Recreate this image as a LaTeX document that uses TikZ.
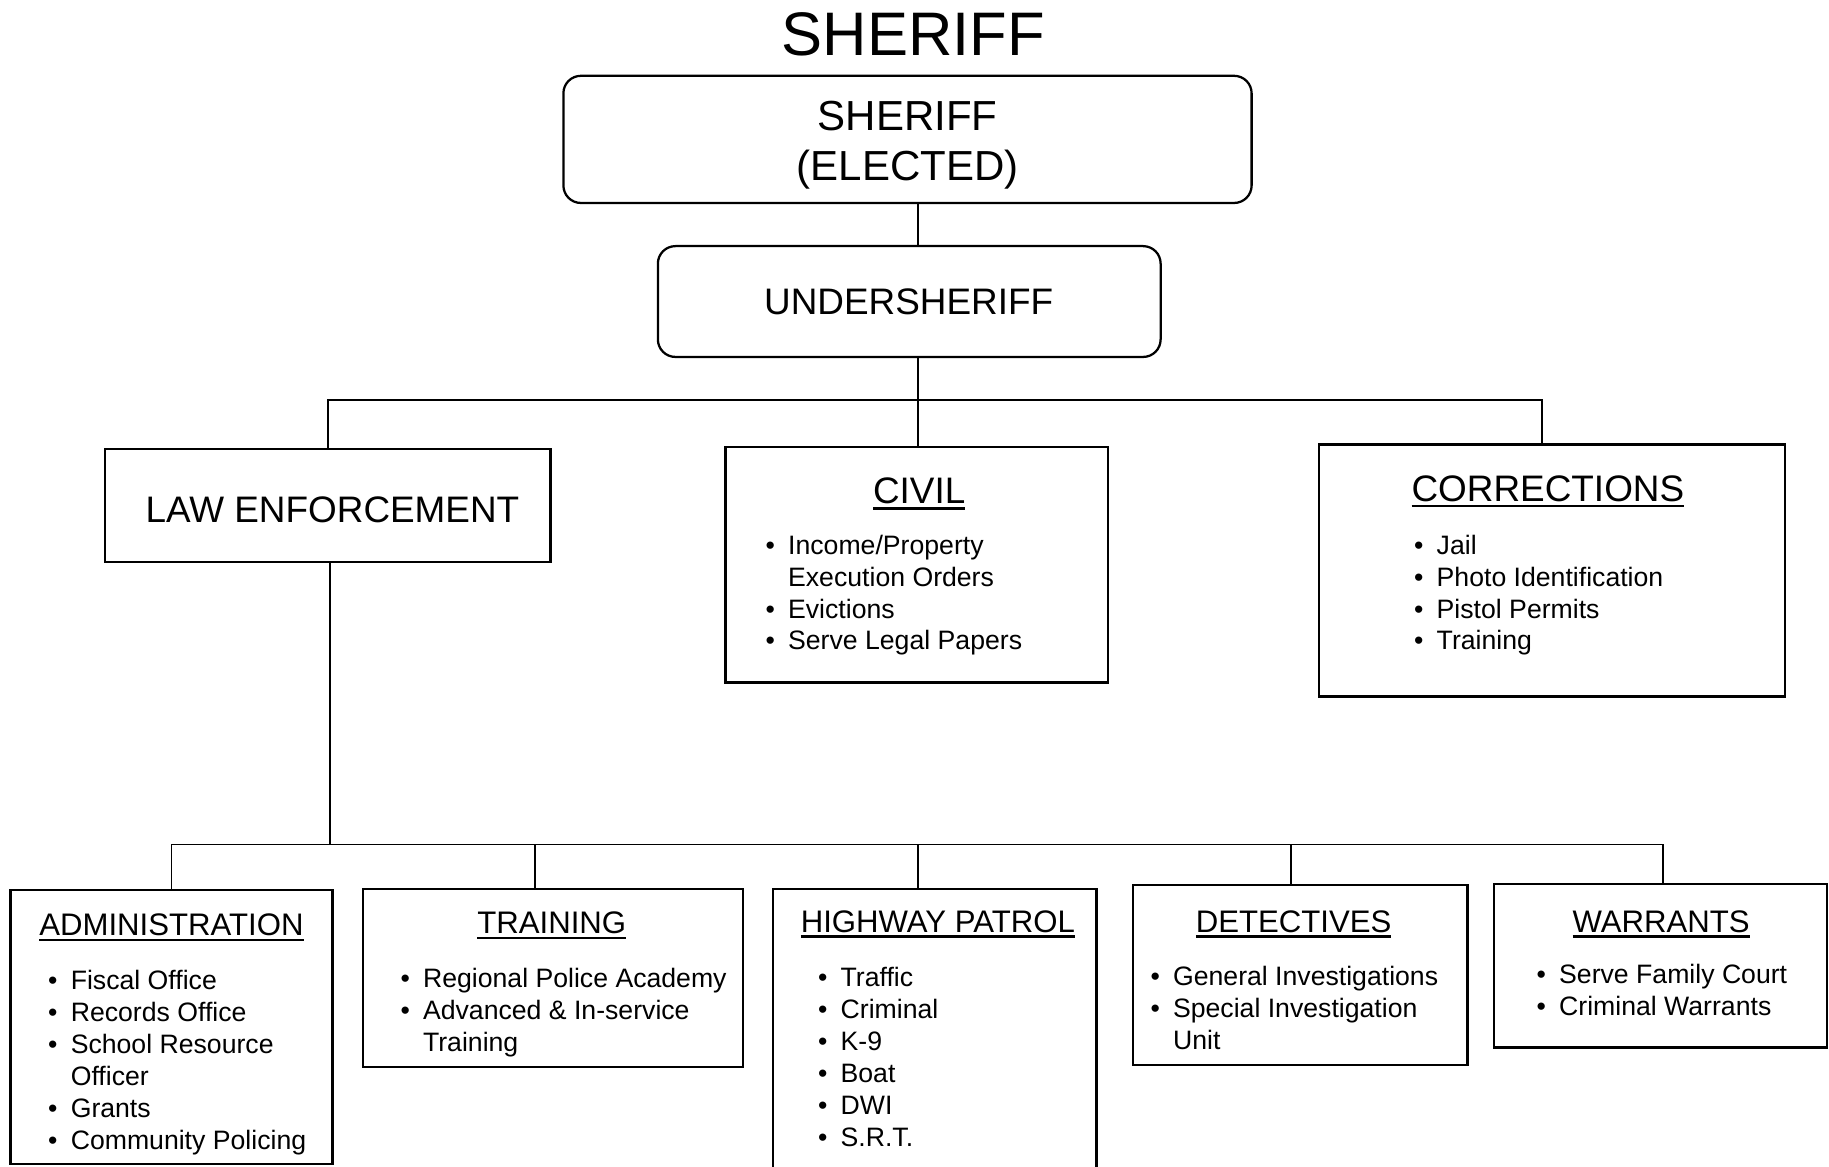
\documentclass[tikz,border=0pt]{standalone}
\usepackage{fontspec}
\setmainfont{Liberation Sans}
\usetikzlibrary{fit}
\newcommand\ulh[1]{\setbox0\hbox{#1}\rlap{\rule[-2.8pt]{\wd0}{1.1pt}}\box0}
\newcommand\bl{\makebox[11pt][l]{•}}
\newcommand\ind{\hspace*{11pt}}
\tikzset{
 box/.style={draw, line width=1.1pt, inner sep=0pt, outer sep=0pt},
 rbox/.style={box, rounded corners=0.3cm},
 conn/.style={line width=0.9pt},
 hd/.style={font=\fontsize{18}{21}\selectfont, inner sep=0pt, anchor=base},
 hds/.style={font=\fontsize{15.2}{18}\selectfont, inner sep=0pt, anchor=base},
 lst/.style={font=\fontsize{13}{15.6}\selectfont, inner sep=0pt, anchor=base west},
}
\begin{document}
\begin{tikzpicture}[x=0.02cm, y=-0.02cm]
\useasboundingbox (0,0) rectangle (1568,1000);
% title
\node[inner sep=0pt, anchor=base, font=\fontsize{30}{34}\selectfont] (title) at (783,48) {SHERIFF};
% top boxes
\node[rbox, fit={(483,65) (1073,174)}] (sheriff) {};
\node[inner sep=0pt, anchor=base, font=\fontsize{20.5}{24}\selectfont] (sh1) at (778,112) {SHERIFF};
\node[inner sep=0pt, anchor=base, font=\fontsize{20.5}{24}\selectfont] (sh2) at (778,155) {(ELECTED)};
\node[rbox, fit={(564,211) (995,306)}] (under) {};
\node[hd] (underT) at (779,270) {UNDERSHERIFF};
% second row
\node[box, fit={(90,385) (472,482)}] (law) {};
\node[hd] (lawT) at (285,448) {LAW ENFORCEMENT};
\node[box, fit={(622,383) (950,585)}] (civil) {};
\node[hd] (civilT) at (788,432) {\ulh{CIVIL}};
\node[lst] (civilL) at (656,475) {\begin{tabular}[t]{@{}l@{}}
\bl Income/Property\\ \ind Execution Orders\\ \bl Evictions\\ \bl Serve Legal Papers\end{tabular}};
\node[box, fit={(1131,381) (1530,597)}] (corr) {};
\node[hd] (corrT) at (1327,430) {\ulh{CORRECTIONS}};
\node[lst] (corrL) at (1212,475) {\begin{tabular}[t]{@{}l@{}}
\bl Jail\\ \bl Photo Identification\\ \bl Pistol Permits\\ \bl Training\end{tabular}};
% bottom row
\node[box, fit={(9,763) (285,998)}] (admin) {};
\node[hds] (adminT) at (147,802) {\ulh{ADMINISTRATION}};
\node[lst] (adminL) at (41,848) {\begin{tabular}[t]{@{}l@{}}
\bl Fiscal Office\\ \bl Records Office\\ \bl School Resource\\ \ind Officer\\ \bl Grants\\ \bl Community Policing\end{tabular}};
\node[box, fit={(311,762) (637,915)}] (train) {};
\node[hds] (trainT) at (473,800) {\ulh{TRAINING}};
\node[lst] (trainL) at (343,847) {\begin{tabular}[t]{@{}l@{}}
\bl Regional Police Academy\\ \bl Advanced \& In-service\\ \ind Training\end{tabular}};
\node[box, fit={(663,762) (940,1012)}] (hp) {};
\node[hds] (hpT) at (804,799) {\ulh{HIGHWAY PATROL}};
\node[lst] (hpL) at (701,846) {\begin{tabular}[t]{@{}l@{}}
\bl Traffic\\ \bl Criminal\\ \bl K-9\\ \bl Boat\\ \bl DWI\\ \bl S.R.T.\end{tabular}};
\node[box, fit={(971,759) (1258,913)}] (det) {};
\node[hds] (detT) at (1109,799) {\ulh{DETECTIVES}};
\node[lst] (detL) at (986,845) {\begin{tabular}[t]{@{}l@{}}
\bl General Investigations\\ \bl Special Investigation\\ \ind Unit\end{tabular}};
\node[box, fit={(1281,758) (1566,898)}] (warr) {};
\node[hds] (warrT) at (1424,799) {\ulh{WARRANTS}};
\node[lst] (warrL) at (1317,843) {\begin{tabular}[t]{@{}l@{}}
\bl Serve Family Court\\ \bl Criminal Warrants\end{tabular}};
% junctions
\coordinate (j0) at (787,343);
\coordinate (b1) at (281,343);
\coordinate (b2) at (1322,343);
\coordinate (lj) at (283,724);
\coordinate (c1) at (147,724);
\coordinate (c2) at (459,724);
\coordinate (c3) at (787,724);
\coordinate (c4) at (1107,724);
\coordinate (c5) at (1426,724);
% connectors
\draw[conn] (sheriff.south -| j0) -- (under.north -| j0);
\draw[conn] (under.south -| j0) -- (j0);
\draw[conn] (law.north -| b1) -- (b1) -- (b2) -- (corr.north -| b2);
\draw[conn] (j0) -- (civil.north -| j0);
\draw[conn] (law.south -| lj) -- (lj);
\draw[conn] (admin.north -| c1) -- (c1) -- (c5) -- (warr.north -| c5);
\draw[conn] (c2) -- (train.north -| c2);
\draw[conn] (c3) -- (hp.north -| c3);
\draw[conn] (c4) -- (det.north -| c4);
\end{tikzpicture}
\end{document}
